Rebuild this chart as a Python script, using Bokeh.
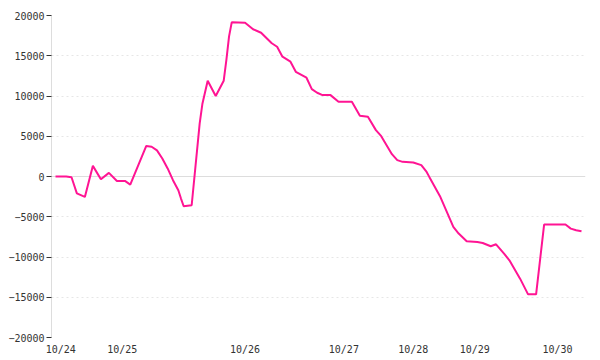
from bokeh.plotting import figure
from bokeh.models import Range1d, FixedTicker, Span
from bokeh.embed import file_html
from bokeh.resources import INLINE

# sample index (trading-session sequence) and cumulative value
idx = [0, 4, 6, 8, 11, 14, 17, 20, 23, 26, 28, 34, 36, 38, 40, 42, 44, 46, 47, 48,
       51, 54, 55, 57, 60, 63, 64, 65, 66, 71, 74, 77, 81, 83, 85, 88, 90, 94, 96,
       98, 100, 103, 106, 111, 114, 117, 120, 122, 126, 128, 130, 134, 137, 139,
       140, 144, 149, 151, 154, 158, 160, 163, 165, 168, 170, 174, 177, 180, 183,
       191, 193, 195, 197]
vals = [0, 0, -100, -2100, -2540, 1320, -340, 450, -550, -550, -1000, 3800, 3700,
        3250, 2240, 1000, -460, -1700, -2740, -3700,
        -3570, 6600, 9000, 11900, 9990, 11900, 14500, 17400, 19150, 19100, 18290,
        17860, 16550, 16120, 14880, 14260, 13010, 12270, 10860,
        10400, 10110, 10110, 9280, 9280, 7540, 7410, 5760, 5010, 2770, 2030, 1820,
        1740, 1410, 570,
        -50, -2450, -6270, -7090, -8050, -8140, -8260, -8670, -8420, -9580, -10410,
        -12690, -14640, -14640, -5970,
        -5970, -6470, -6680, -6800]

day_ticks = [2, 25, 71, 108, 134, 157, 188]
day_labels = ["10/24", "10/25", "10/26", "10/27", "10/28", "10/29", "10/30"]
y_ticks = [-20000, -15000, -10000, -5000, 0, 5000, 10000, 15000, 20000]

p = figure(width=600, height=360, output_backend="svg", toolbar_location=None,
           x_range=Range1d(-1.5, 198.5), y_range=Range1d(-20000, 20000),
           min_border_left=51, min_border_right=15, min_border_top=15,
           min_border_bottom=23)
p.outline_line_color = None
p.background_fill_color = "white"
p.border_fill_color = "white"

p.xgrid.grid_line_color = None
p.ygrid.ticker = FixedTicker(ticks=y_ticks)
p.ygrid.grid_line_color = "#e6e6e6"
p.ygrid.grid_line_dash = "2 3"

p.add_layout(Span(location=0, dimension="width", line_color="#dddddd",
                  line_width=1, level="underlay"))

p.line(idx, vals, line_color="#ff1493", line_width=2)

xa = p.xaxis[0]
xa.ticker = FixedTicker(ticks=day_ticks)
xa.major_label_overrides = {t: l for t, l in zip(day_ticks, day_labels)}
xa.axis_line_color = None
xa.major_tick_line_color = None
xa.major_tick_out = 0
xa.major_tick_in = 0
xa.minor_tick_line_color = None
xa.minor_tick_out = 0
xa.major_label_standoff = 6
xa.major_label_text_font = "DejaVu Sans Mono"
xa.major_label_text_font_size = "10px"
xa.major_label_text_color = "#333333"

ya = p.yaxis[0]
ya.ticker = FixedTicker(ticks=y_ticks)
ya.axis_line_color = "#dddddd"
ya.major_tick_line_color = "#333333"
ya.major_tick_out = 5
ya.major_tick_in = 0
ya.minor_tick_line_color = None
ya.major_label_standoff = 2
ya.major_label_text_font = "DejaVu Sans Mono"
ya.major_label_text_font_size = "10px"
ya.major_label_text_color = "#333333"

open("out.html", "w").write(file_html(p, INLINE))
